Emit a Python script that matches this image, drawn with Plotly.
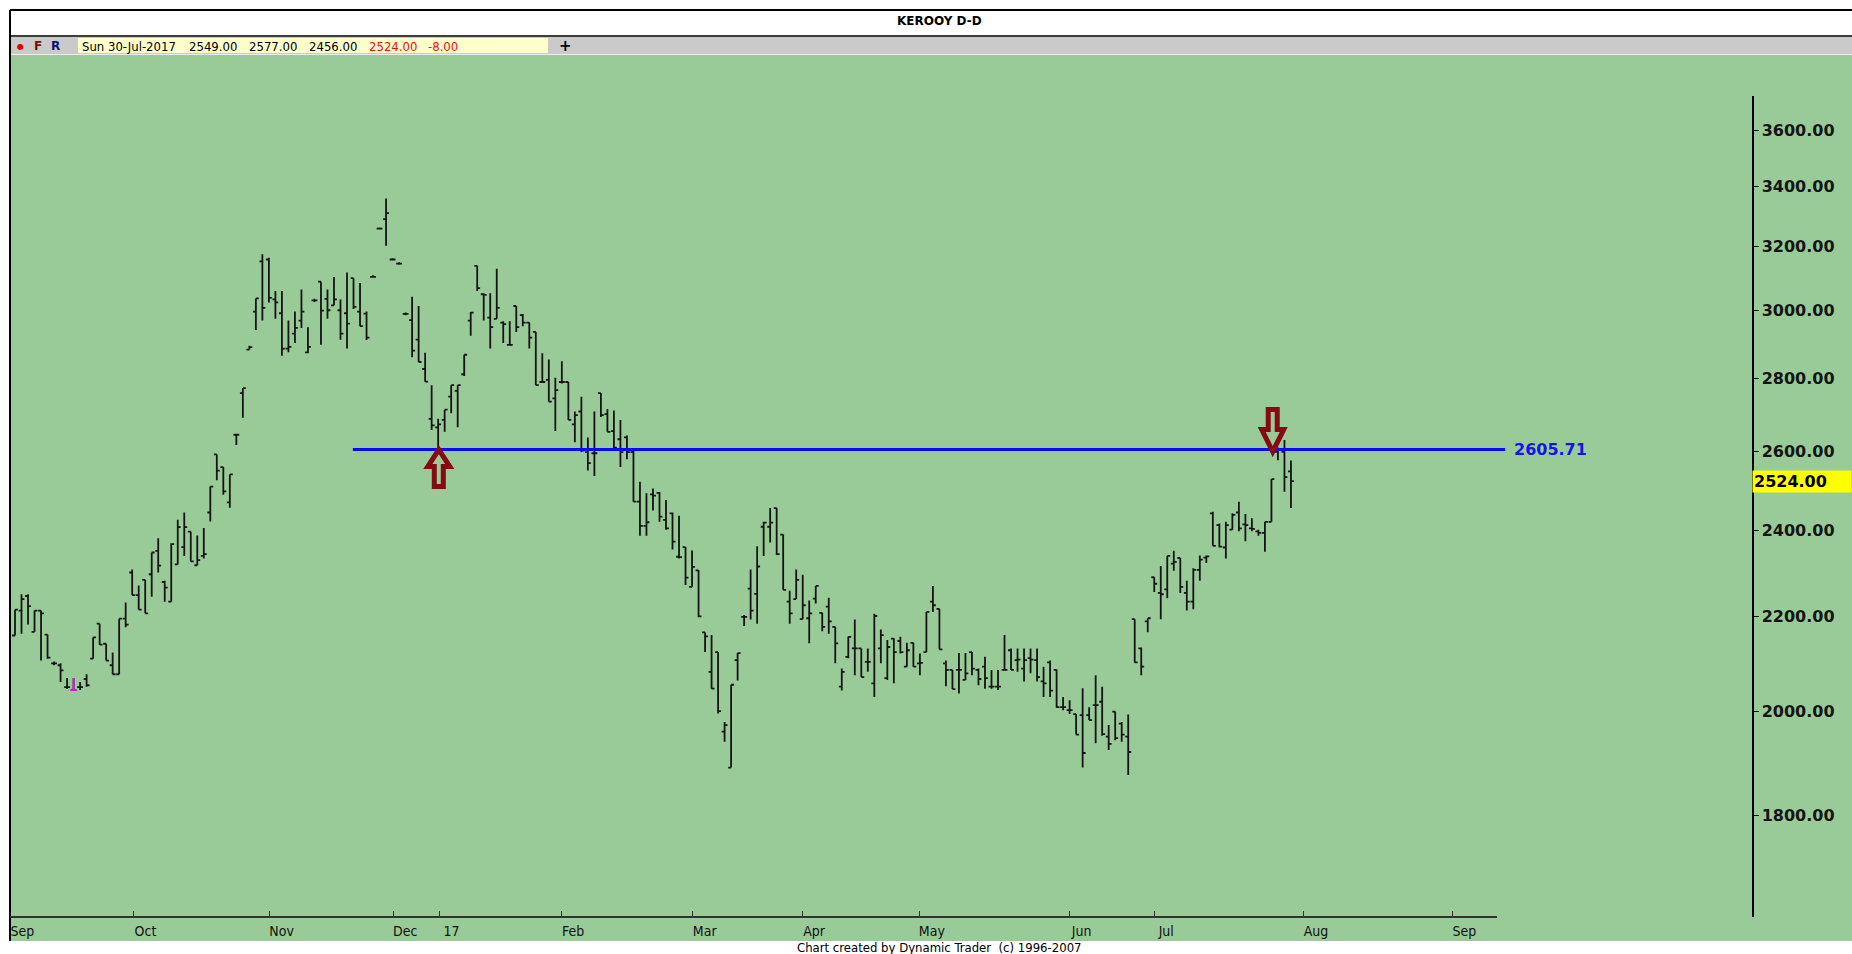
import math
import plotly.graph_objects as go

# ---------------- data (daily bars) ----------------
opens = [
    2159, 2214, 2247, 2167, 2214, 2161, 2099, 2095, 2049, 2043,
    2049, 2066, 2109, 2185, 2141, 2095, 2076, 2196, 2301, 2249,
    2284, 2297, 2352, 2279, 2234, 2320, 2361, 2398, 2318, 2340,
    2445, 2593, 2560, 2470, 2645, 2759, 2883, 2996, 3152, 3158,
    3033, 2991, 2886, 2930, 2969, 2875, 3030, 3088, 3035, 3015,
    3000, 2991, 3099, 2996, 2990, 3103, 3258, 3290, 3158, 3145,
    2989, 2970, 2912, 2827, 2688, 2665, 2685, 2749, 2765, 2812,
    2969, 3138, 3049, 2978, 2974, 2963, 2897, 3013, 2985, 2963,
    2935, 2790, 2796, 2744, 2790, 2790, 2673, 2708, 2599, 2596,
    2759, 2701, 2655, 2633, 2638, 2599, 2472, 2412, 2490, 2494,
    2427, 2443, 2338, 2361, 2268, 2306, 2166, 2081, 2123, 1959,
    1889, 2106, 2200, 2264, 2252, 2410, 2410, 2456, 2391, 2234,
    2240, 2195, 2197, 2241, 2209, 2223, 2178, 2050, 2113, 2131,
    2131, 2102, 2057, 2131, 2068, 2152, 2147, 2092, 2143, 2099,
    2123, 2234, 2218, 2099, 2085, 2085, 2064, 2123, 2085, 2092,
    2050, 2050, 2085, 2127, 2106, 2088, 2110, 2106, 2061, 2101,
    2085, 2008, 2002, 1994, 1992, 1992, 2012, 2019, 1949, 1999,
    1975, 1949, 2195, 2131, 2190, 2290, 2254, 2262, 2322, 2335,
    2254, 2234, 2307, 2336, 2443, 2414, 2360, 2403, 2445, 2416,
    2406, 2399, 2395, 2422, 2600, 2600, 2549,
]
highs = [
    2216, 2251, 2251, 2214, 2214, 2161, 2103, 2099, 2068, 2068,
    2060, 2076, 2155, 2185, 2141, 2122, 2196, 2232, 2308, 2271,
    2284, 2348, 2382, 2282, 2370, 2427, 2445, 2398, 2389, 2407,
    2510, 2593, 2560, 2541, 2645, 2773, 2894, 3036, 3175, 3164,
    3059, 3059, 2969, 2996, 3064, 2949, 3035, 3088, 3064, 3103,
    3033, 3117, 3099, 3084, 2996, 3108, 3262, 3359, 3162, 3149,
    2993, 3041, 3013, 2874, 2781, 2688, 2713, 2781, 2781, 2868,
    2995, 3138, 3052, 3052, 3129, 2967, 2967, 3013, 2989, 2963,
    2935, 2872, 2854, 2802, 2849, 2790, 2708, 2749, 2638, 2708,
    2759, 2715, 2711, 2685, 2643, 2603, 2522, 2493, 2505, 2496,
    2476, 2445, 2437, 2361, 2353, 2307, 2166, 2160, 2123, 1978,
    2054, 2121, 2204, 2308, 2363, 2422, 2456, 2456, 2391, 2259,
    2308, 2296, 2237, 2270, 2209, 2243, 2178, 2088, 2157, 2194,
    2131, 2131, 2207, 2172, 2149, 2153, 2156, 2143, 2143, 2120,
    2211, 2270, 2218, 2105, 2085, 2121, 2121, 2123, 2088, 2113,
    2085, 2085, 2160, 2131, 2131, 2131, 2131, 2131, 2092, 2105,
    2086, 2029, 2022, 1994, 2047, 2008, 2074, 2050, 1972, 1999,
    1978, 1993, 2195, 2133, 2197, 2290, 2316, 2340, 2352, 2335,
    2282, 2311, 2341, 2341, 2447, 2418, 2422, 2443, 2472, 2441,
    2431, 2403, 2422, 2529, 2611, 2631, 2577,
]
lows = [
    2159, 2163, 2183, 2167, 2105, 2109, 2095, 2060, 2045, 2041,
    2043, 2050, 2109, 2139, 2105, 2076, 2076, 2177, 2249, 2216,
    2208, 2245, 2301, 2234, 2234, 2320, 2340, 2327, 2318, 2334,
    2423, 2526, 2489, 2457, 2618, 2691, 2883, 2941, 2969, 3024,
    2974, 2865, 2875, 2902, 2947, 2872, 3025, 2897, 2974, 3015,
    2912, 2886, 3004, 2952, 2911, 3100, 3255, 3202, 3155, 3141,
    2985, 2861, 2847, 2791, 2658, 2608, 2653, 2703, 2665, 2807,
    2924, 3059, 2969, 2886, 2974, 2902, 2894, 2935, 2952, 2886,
    2781, 2788, 2735, 2655, 2786, 2685, 2625, 2599, 2551, 2537,
    2693, 2653, 2608, 2560, 2580, 2472, 2388, 2388, 2450, 2422,
    2403, 2355, 2334, 2272, 2268, 2199, 2123, 2046, 1995, 1939,
    1889, 2063, 2180, 2194, 2185, 2340, 2372, 2342, 2261, 2185,
    2240, 2195, 2142, 2230, 2168, 2163, 2099, 2042, 2110, 2074,
    2070, 2081, 2029, 2099, 2064, 2057, 2120, 2092, 2092, 2074,
    2123, 2211, 2129, 2051, 2045, 2036, 2064, 2074, 2053, 2046,
    2046, 2043, 2085, 2085, 2081, 2061, 2078, 2061, 2029, 2029,
    2007, 2002, 1994, 1953, 1889, 1982, 1936, 1951, 1923, 1942,
    1939, 1875, 2101, 2074, 2166, 2256, 2195, 2242, 2305, 2254,
    2214, 2217, 2282, 2323, 2364, 2360, 2334, 2403, 2399, 2375,
    2399, 2388, 2350, 2422, 2578, 2497, 2456,
]
closes = [
    2216, 2240, 2224, 2214, 2208, 2111, 2099, 2084, 2049, 2043,
    2049, 2053, 2155, 2139, 2105, 2076, 2196, 2183, 2249, 2216,
    2208, 2348, 2317, 2266, 2368, 2409, 2409, 2327, 2330, 2344,
    2510, 2551, 2498, 2541, 2645, 2773, 2890, 3036, 3007, 3038,
    3024, 2886, 2891, 2947, 2996, 2891, 3030, 2999, 3000, 3033,
    2930, 2960, 3010, 2952, 2918, 3103, 3258, 3310, 3158, 3145,
    2989, 2880, 2847, 2791, 2670, 2673, 2713, 2781, 2781, 2868,
    2993, 3068, 3047, 2949, 3007, 2958, 2897, 2949, 2963, 2918,
    2781, 2790, 2735, 2767, 2790, 2685, 2698, 2603, 2570, 2596,
    2698, 2653, 2611, 2599, 2599, 2472, 2412, 2421, 2487, 2435,
    2406, 2374, 2337, 2289, 2314, 2201, 2157, 2046, 2000, 1972,
    2054, 2121, 2200, 2214, 2315, 2420, 2420, 2344, 2261, 2208,
    2284, 2226, 2208, 2270, 2178, 2190, 2142, 2081, 2156, 2131,
    2070, 2102, 2202, 2160, 2134, 2123, 2123, 2127, 2092, 2100,
    2211, 2226, 2129, 2085, 2045, 2085, 2078, 2088, 2066, 2068,
    2050, 2050, 2085, 2085, 2107, 2106, 2107, 2070, 2057, 2042,
    2008, 2008, 2002, 1953, 1917, 1982, 2012, 1954, 1935, 1946,
    1953, 1919, 2101, 2092, 2197, 2275, 2251, 2340, 2326, 2268,
    2234, 2307, 2331, 2339, 2364, 2362, 2414, 2439, 2406, 2414,
    2405, 2395, 2422, 2529, 2604, 2534, 2524,
]
assert len(opens) == len(highs) == len(lows) == len(closes)
bars = list(range(len(opens)))
pink_bar = 9

month_ticks = [-0.7, 18.2, 39.1, 58.1, 65.2, 83.9, 104.1, 120.9, 139.0, 162.0, 175.0, 198.0, 220.8]
month_labels = ["Sep", "Oct", "Nov", "Dec", "17", "Feb", "Mar", "Apr", "May", "Jun", "Jul", "Aug", "Sep"]

price_ticks = [1800, 2000, 2200, 2400, 2600, 2800, 3000, 3200, 3400, 3600]
price_labels = [f"{v:.2f}" for v in price_ticks]

level = 2605.71
level_start, level_end = 51.9, 228.9
last_close = 2524.00
up_arrow_bar, down_arrow_bar = 65.1, 193.2

header_values = ["Sun 30-Jul-2017", "2549.00", "2577.00", "2456.00"]
header_red = ["2524.00", "-8.00"]

# ---------------- layout geometry ----------------
W, H = 1852, 954
PL, PR, PT, PB = 10, 1752, 96, 917
SLOT0, SLOT_PX = 15, 6.51
x_range = [(PL - SLOT0) / SLOT_PX, (PR - SLOT0) / SLOT_PX]
axis_end = (1497 - SLOT0) / SLOT_PX
y_range = [math.log10(1624), math.log10(3726)]


def px_x(p):
    return (p - PL) / (PR - PL)


def px_y(p):
    return (PB - p) / (PB - PT)


def price_to_paper(v):
    return (math.log10(v) - y_range[0]) / (y_range[1] - y_range[0])


NARROW = "Liberation Sans Narrow, DejaVu Sans Condensed, Arial Narrow, sans-serif"
BOLD = "DejaVu Sans, Verdana, sans-serif"
GREEN = "#99CB98"
BAR = "#141414"

fig = go.Figure()

fig.add_trace(go.Ohlc(
    x=bars, open=opens, high=highs, low=lows, close=closes,
    increasing=dict(line=dict(color=BAR, width=1.8)),
    decreasing=dict(line=dict(color=BAR, width=1.8)),
    tickwidth=0.45, hoverinfo="skip", showlegend=False,
))
fig.add_trace(go.Ohlc(
    x=[bars[pink_bar]], open=[opens[pink_bar]], high=[highs[pink_bar]],
    low=[lows[pink_bar]], close=[closes[pink_bar]],
    increasing=dict(line=dict(color="#FF00FF", width=1.8)),
    decreasing=dict(line=dict(color="#FF00FF", width=1.8)),
    tickwidth=0.45, hoverinfo="skip", showlegend=False,
))
fig.add_trace(go.Scatter(
    x=[level_start, level_end], y=[level, level], mode="lines",
    line=dict(color="#0A0AF0", width=3), hoverinfo="skip", showlegend=False,
))

shapes = [
    # green chart window
    dict(type="rect", xref="paper", yref="paper", x0=px_x(10), x1=px_x(W), y0=px_y(941), y1=px_y(55),
         fillcolor=GREEN, line=dict(width=0), layer="below"),
    # toolbar
    dict(type="rect", xref="paper", yref="paper", x0=px_x(10), x1=px_x(W), y0=px_y(54), y1=px_y(37),
         fillcolor="#CACACA", line=dict(width=0), layer="below"),
    dict(type="line", xref="paper", yref="paper", x0=px_x(10), x1=px_x(W), y0=px_y(36), y1=px_y(36),
         line=dict(color="#3C3C3C", width=2)),
    dict(type="line", xref="paper", yref="paper", x0=px_x(10), x1=px_x(W), y0=px_y(54.5), y1=px_y(54.5),
         line=dict(color="#EEEEEE", width=1)),
    dict(type="rect", xref="paper", yref="paper", x0=px_x(78), x1=px_x(548), y0=px_y(53), y1=px_y(38),
         fillcolor="#FFFFCC", line=dict(width=0)),
    # outer borders
    dict(type="line", xref="paper", yref="paper", x0=px_x(10), x1=px_x(W), y0=px_y(10), y1=px_y(10),
         line=dict(color="#000000", width=2)),
    dict(type="line", xref="paper", yref="paper", x0=px_x(10), x1=px_x(10), y0=px_y(10), y1=px_y(941),
         line=dict(color="#000000", width=2)),
    # time axis line
    dict(type="line", xref="x", yref="paper", x0=x_range[0], x1=axis_end, y0=0, y1=0,
         line=dict(color="#333333", width=2)),
]

arrow_line = dict(color="#850A12", width=5)
level_paper = price_to_paper(level)
shapes.append(dict(
    type="path", xref="x", yref="paper", xsizemode="pixel", ysizemode="pixel",
    xanchor=up_arrow_bar, yanchor=level_paper,
    path="M0,0 L11,-17 L4.5,-17 L4.5,-37 L-4.5,-37 L-4.5,-17 L-11,-17 Z",
    line=arrow_line, fillcolor="rgba(0,0,0,0)",
))
shapes.append(dict(
    type="path", xref="x", yref="paper", xsizemode="pixel", ysizemode="pixel",
    xanchor=down_arrow_bar, yanchor=level_paper,
    path="M0,-2 L11,20 L4.5,20 L4.5,40 L-4.5,40 L-4.5,20 L-11,20 Z",
    line=arrow_line, fillcolor="rgba(0,0,0,0)",
))

annotations = [
    dict(text="<b>KEROOY D-D</b>", xref="paper", yref="paper", x=px_x(939), y=px_y(21),
         showarrow=False, font=dict(family=BOLD, size=12, color="#000000"), xanchor="center", yanchor="middle"),
    dict(text="●", xref="paper", yref="paper", x=px_x(20), y=px_y(46), showarrow=False,
         font=dict(family=BOLD, size=8, color="#E00000"), xanchor="center", yanchor="middle"),
    dict(text="<b>F</b>", xref="paper", yref="paper", x=px_x(38), y=px_y(46), showarrow=False,
         font=dict(family=BOLD, size=12, color="#7A0A0A"), xanchor="center", yanchor="middle"),
    dict(text="<b>R</b>", xref="paper", yref="paper", x=px_x(55), y=px_y(46), showarrow=False,
         font=dict(family=BOLD, size=12, color="#10107A"), xanchor="center", yanchor="middle"),
    dict(text="<b>+</b>", xref="paper", yref="paper", x=px_x(565), y=px_y(46), showarrow=False,
         font=dict(family=BOLD, size=15, color="#000000"), xanchor="center", yanchor="middle"),
    dict(text="Chart created by Dynamic Trader \u00a0(c) 1996-2007", xref="paper", yref="paper",
         x=px_x(939), y=px_y(947), showarrow=False, font=dict(family=NARROW, size=13, color="#000000"),
         xanchor="center", yanchor="middle"),
    dict(text="<b>%.2f</b>" % level, xref="x", yref="paper", x=level_end, y=level_paper,
         xshift=7, showarrow=False, font=dict(family=BOLD, size=16, color="#1414E6"),
         xanchor="left", yanchor="middle"),
    dict(text="<b>%.2f</b>" % last_close, xref="paper", yref="paper", x=1.0, y=price_to_paper(last_close),
         showarrow=False, font=dict(family=BOLD, size=16, color="#000000"), bgcolor="#FFFF00",
         xanchor="left", yanchor="middle", width=96, align="left", borderpad=1),
]
header_x = [80, 187, 247, 307]
for txt, xp in zip(header_values, header_x):
    annotations.append(dict(text=txt, xref="paper", yref="paper", x=px_x(xp), y=px_y(46),
                            showarrow=False, font=dict(family=NARROW, size=13, color="#000000"),
                            xanchor="left", yanchor="middle"))
for txt, xp in zip(header_red, [367, 426]):
    annotations.append(dict(text=txt, xref="paper", yref="paper", x=px_x(xp), y=px_y(46),
                            showarrow=False, font=dict(family=NARROW, size=13, color="#F01010"),
                            xanchor="left", yanchor="middle"))

fig.update_layout(
    width=W, height=H, autosize=False,
    margin=dict(l=PL, r=W - PR, t=PT, b=H - PB, pad=0),
    paper_bgcolor="#FFFFFF", plot_bgcolor="rgba(0,0,0,0)",
    showlegend=False, hovermode=False,
    shapes=shapes, annotations=annotations,
    xaxis=dict(
        range=x_range, showgrid=False, zeroline=False, showline=False,
        tickmode="array", tickvals=month_ticks, ticktext=month_labels,
        ticks="inside", ticklen=6, tickwidth=1, tickcolor="#333333",
        tickfont=dict(family=NARROW, size=14, color="#101010"),
        ticklabelshift=12, ticklabelstandoff=4,
        rangeslider=dict(visible=False), fixedrange=True,
    ),
    yaxis=dict(
        type="log", range=y_range, side="right", showgrid=False, zeroline=False,
        showline=True, linecolor="#000000", linewidth=1.5,
        tickmode="array", tickvals=price_ticks, ticktext=price_labels,
        ticks="outside", ticklen=5, tickwidth=1, tickcolor="#000000",
        tickfont=dict(family=BOLD, size=16, color="#141414", weight="bold"),
        fixedrange=True,
    ),
)

fig.write_html(
    "out.html",
    config={"displayModeBar": False, "staticPlot": True},
    post_script="document.body.style.margin='0px'; document.body.style.overflow='hidden';",
)
